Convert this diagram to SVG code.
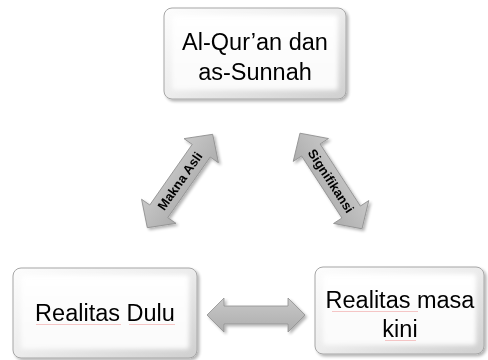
<svg xmlns="http://www.w3.org/2000/svg" width="488" height="360" viewBox="0 0 488 360">
<defs>
<linearGradient id="bevel" x1="0" y1="0" x2="1" y2="1">
<stop offset="0" stop-color="#fdfdfd"/>
<stop offset="0.5" stop-color="#ececec"/>
<stop offset="1" stop-color="#cfcfcf"/>
</linearGradient>
<linearGradient id="face" x1="0" y1="0" x2="0" y2="1">
<stop offset="0" stop-color="#ffffff"/>
<stop offset="1" stop-color="#fafafa"/>
</linearGradient>
<linearGradient id="arrowFill" x1="0" y1="0" x2="0" y2="1">
<stop offset="0" stop-color="#c8c8c8"/>
<stop offset="1" stop-color="#adadad"/>
</linearGradient>
<filter id="shadow" x="-10%" y="-10%" width="125%" height="130%">
<feGaussianBlur in="SourceAlpha" stdDeviation="1.5"/>
<feOffset dx="1.5" dy="2" result="o"/>
<feComponentTransfer><feFuncA type="linear" slope="0.3"/></feComponentTransfer>
<feMerge><feMergeNode/><feMergeNode in="SourceGraphic"/></feMerge>
</filter>
<filter id="soft" x="-10%" y="-10%" width="120%" height="120%">
<feGaussianBlur stdDeviation="2"/>
</filter>
</defs>
<style>
.outer{fill:url(#bevel);stroke:#a6a6a6;stroke-width:1}
.inner{fill:url(#face)}
.lbl{font-family:"Liberation Sans",Arial,sans-serif;font-size:23.5px;fill:#000;text-anchor:middle}
.alb{font-family:"Liberation Sans",Arial,sans-serif;font-size:13px;font-weight:bold;fill:#000;text-anchor:middle}
.arr{fill:url(#arrowFill);stroke:#8f8f8f;stroke-width:0.8}
.sq{stroke:#f2b8b8;stroke-width:0.8;fill:none}
</style>

<g id="node-quran" filter="url(#shadow)">
<rect class="outer" x="164" y="8" width="182" height="91" rx="8"/>
<rect class="inner" x="172" y="15" width="166" height="75" rx="3" filter="url(#soft)"/>
<text class="lbl" x="255" y="50">Al-Qur’an dan</text>
<text class="lbl" x="255" y="80">as-Sunnah</text>
</g>

<g id="node-dulu" filter="url(#shadow)">
<rect class="outer" x="13" y="268" width="184" height="90" rx="8"/>
<rect class="inner" x="21" y="275" width="168" height="74" rx="3" filter="url(#soft)"/>
<text class="lbl" x="105" y="321">Realitas Dulu</text>
<path class="sq" d="M36 324.5 H121 M129 324.5 H175"/>
</g>

<g id="node-kini" filter="url(#shadow)">
<rect class="outer" x="315" y="267" width="169" height="87" rx="8"/>
<rect class="inner" x="323" y="274" width="153" height="71" rx="3" filter="url(#soft)"/>
<text class="lbl" x="400" y="308">Realitas masa</text>
<text class="lbl" x="400" y="337">kini</text>
<path class="sq" d="M332 311.5 H418 M385 340.5 H416"/>
</g>

<g id="connectors" filter="url(#shadow)">
<g id="arrow-makna" transform="translate(180,181) rotate(-55)">
<path class="arr" d="M-57 0 L-37 -21 L-37 -11 L37 -11 L37 -21 L57 0 L37 21 L37 11 L-37 11 L-37 21 Z"/>
<text class="alb" x="0" y="4.5">Makna Asli</text>
</g>
<g id="arrow-signifikansi" transform="translate(331,181) rotate(57)">
<path class="arr" d="M-57 0 L-37 -21 L-37 -11 L37 -11 L37 -21 L57 0 L37 21 L37 11 L-37 11 L-37 21 Z"/>
<text class="alb" x="0" y="4.5">Signifikansi</text>
</g>
<g id="arrow-realitas" transform="translate(256,315)">
<path class="arr" d="M-49 0 L-32 -17 L-32 -9 L32 -9 L32 -17 L49 0 L32 17 L32 9 L-32 9 L-32 17 Z"/>
</g>
</g>
</svg>
